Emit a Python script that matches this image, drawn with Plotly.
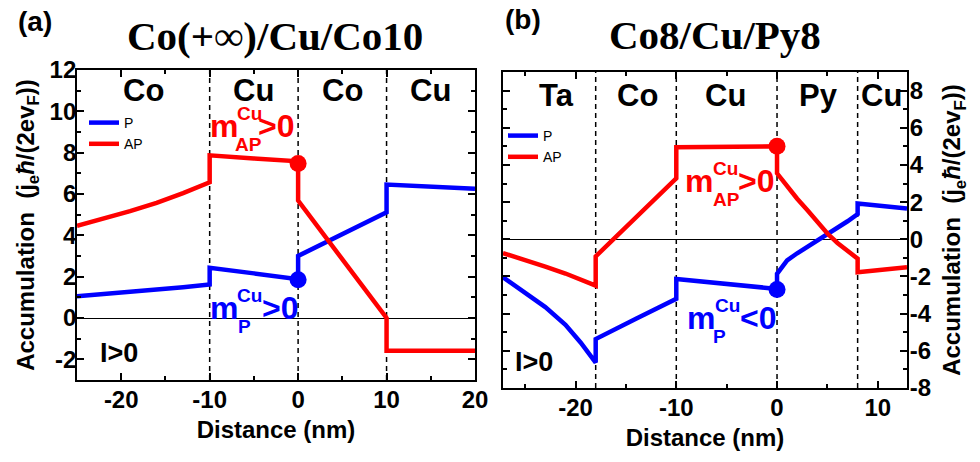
import plotly.graph_objects as go

# ---------------- data ----------------
# panel (a): Co(+inf)/Cu/Co10
x_a = [-25, -22, -19, -16, -13, -10, -10, -5, 0, 0, 5, 10, 10, 15, 20]
p_a = [1.05, 1.15, 1.26, 1.37, 1.49, 1.62, 2.43, 2.16, 1.88, 3.0, 4.05, 5.11, 6.46, 6.36, 6.25]
ap_a = [4.46, 4.80, 5.17, 5.57, 6.04, 6.57, 7.87, 7.72, 7.58, 5.68, 2.84, 0.0, -1.59, -1.59, -1.59]
dot_x_a = [0]
dot_p_a = [1.85]
dot_ap_a = [7.48]
layers_a = ["Co", "Cu", "Co", "Cu"]
layer_pos_a = [-17.5, -5, 5, 15]
bounds_a = [-10, 0, 10]
xtick_a = [-20, -10, 0, 10, 20]
xtick_text_a = ["-20", "-10", "0", "10", "20"]
ytick_a = [-2, 0, 2, 4, 6, 8, 10, 12]
ytick_text_a = ["-2", "0", "2", "4", "6", "8", "10", "12"]

# panel (b): Co8/Cu/Py8
x_b = [-27.2, -25, -23, -21, -19.5, -18, -18, -14, -10, -10, -5, 0, 0, 1, 2, 3, 4, 5, 6, 7, 8, 8, 12.9]
p_b = [-2.04, -2.85, -3.65, -4.60, -5.55, -6.63, -5.37, -4.28, -3.20, -2.13, -2.40, -2.67, -1.86,
       -1.14, -0.75, -0.41, -0.09, 0.22, 0.60, 0.97, 1.35, 1.93, 1.66]
ap_b = [-0.74, -1.10, -1.47, -1.84, -2.15, -2.49, -0.92, 1.18, 3.28, 4.95, 4.97, 5.00, 3.55,
        2.83, 2.18, 1.57, 0.92, 0.31, -0.20, -0.65, -1.04, -1.77, -1.50]
dot_x_b = [0]
dot_p_b = [-2.70]
dot_ap_b = [5.00]
layers_b = ["Ta", "Co", "Cu", "Py", "Cu"]
layer_pos_b = [-21.9, -13.9, -5.1, 4.1, 10.4]
bounds_b = [-18, -10, 0, 8]
xtick_b = [-20, -10, 0, 10]
xtick_text_b = ["-20", "-10", "0", "10"]
ytick_b = [-8, -6, -4, -2, 0, 2, 4, 6, 8]
ytick_text_b = ["-8", "-6", "-4", "-2", "0", "2", "4", "6", "8"]

BLUE = "#0000ff"
RED = "#ff0000"
SANS = "Liberation Sans, Arial, sans-serif"
SERIF = "Liberation Serif, Times New Roman, serif"
OFF = 8                      # page body margin of the html page
W, H = 980 - OFF, 462 - OFF

fig = go.Figure()

def add_panel(xs, p, ap, dx, dp, dap, xa, ya, legend):
    fig.add_trace(go.Scatter(x=xs, y=p, mode="lines", name="P", line=dict(color=BLUE, width=4.5),
                             xaxis=xa, yaxis=ya, legend=legend))
    fig.add_trace(go.Scatter(x=xs, y=ap, mode="lines", name="AP", line=dict(color=RED, width=4.5),
                             xaxis=xa, yaxis=ya, legend=legend))
    fig.add_trace(go.Scatter(x=dx, y=dp, mode="markers", marker=dict(color=BLUE, size=17),
                             xaxis=xa, yaxis=ya, showlegend=False))
    fig.add_trace(go.Scatter(x=dx, y=dap, mode="markers", marker=dict(color=RED, size=17),
                             xaxis=xa, yaxis=ya, showlegend=False))

add_panel(x_a, p_a, ap_a, dot_x_a, dot_p_a, dot_ap_a, "x", "y", "legend")
add_panel(x_b, p_b, ap_b, dot_x_b, dot_p_b, dot_ap_b, "x2", "y2", "legend2")

tickfont = dict(family=SANS, size=24, color="black", weight="bold")
titlefont = dict(family=SANS, size=24, color="black", weight="bold")
common_axis = dict(showline=True, linecolor="black", linewidth=1.8, mirror="ticks",
                   ticks="inside", ticklen=7, tickwidth=1.5, tickcolor="black",
                   showgrid=False, tickfont=tickfont, automargin=False, tickmode="array")

ytitle = "Accumulation\u00a0\u00a0(j<sub>e</sub><i>ħ</i>/(2ev<sub>F</sub>))"

def px(x):
    return (x - OFF) / W

def py(y):
    return 1 - (y - OFF) / H

def minor(d):
    return dict(ticks="inside", ticklen=4, tickmode="linear", tick0=0, dtick=d,
                tickcolor="black", showgrid=False)

fig.update_layout(
    template="none",
    width=W, height=H, margin=dict(l=0, r=0, t=0, b=0, autoexpand=False),
    paper_bgcolor="white", plot_bgcolor="white",
    xaxis=dict(domain=[px(77), px(475)], range=[-25, 20], tickvals=xtick_a, ticktext=xtick_text_a,
               minor=minor(5), title=dict(text="Distance (nm)", font=titlefont, standoff=9),
               ticklabelstandoff=-3,
               zeroline=False, anchor="y", **common_axis),
    yaxis=dict(domain=[py(380), py(70)], range=[-3, 12], tickvals=ytick_a, ticktext=ytick_text_a,
               minor=minor(1), title=dict(text=ytitle, font=titlefont, standoff=8),
               ticklabelstandoff=-6,
               zeroline=True, zerolinecolor="black", zerolinewidth=1, anchor="x", **common_axis),
    xaxis2=dict(domain=[px(503), px(907)], range=[-27.2, 12.9], tickvals=xtick_b, ticktext=xtick_text_b,
                minor=minor(5), title=dict(text="Distance (nm)", font=titlefont, standoff=9),
                ticklabelstandoff=-3,
                zeroline=False, anchor="y2", **common_axis),
    yaxis2=dict(domain=[py(388), py(72)], range=[-8, 9], tickvals=ytick_b, ticktext=ytick_text_b,
                minor=minor(1), title=dict(text=ytitle, font=titlefont, standoff=13), side="right",
                ticklabelstandoff=-4,
                zeroline=True, zerolinecolor="black", zerolinewidth=1, anchor="x2", **common_axis),
    legend=dict(x=px(84), y=py(107), xanchor="left", yanchor="top", bgcolor="rgba(0,0,0,0)",
                font=dict(family=SANS, size=14, color="black"), tracegroupgap=0, itemwidth=30),
    legend2=dict(x=px(503), y=py(120), xanchor="left", yanchor="top", bgcolor="rgba(0,0,0,0)",
                 font=dict(family=SANS, size=14, color="black"), tracegroupgap=0, itemwidth=30),
    showlegend=True,
)

shapes = []
for b in bounds_a:
    shapes.append(dict(type="line", xref="x", yref="y domain", x0=b, x1=b, y0=0, y1=1,
                       line=dict(color="black", width=1.5, dash="5px,4px"), layer="below"))
for b in bounds_b:
    shapes.append(dict(type="line", xref="x2", yref="y2 domain", x0=b, x1=b, y0=0, y1=1,
                       line=dict(color="black", width=1.5, dash="5px,4px"), layer="below"))
fig.update_layout(shapes=shapes)

anns = []
for name, xv in zip(layers_a, layer_pos_a):
    anns.append(dict(x=xv, y=py(91), xref="x", yref="paper", text=name, showarrow=False,
                     xanchor="center", yanchor="middle",
                     font=dict(family=SANS, size=31, color="black", weight="bold")))
for name, xv in zip(layers_b, layer_pos_b):
    anns.append(dict(x=xv, y=py(96), xref="x2", yref="paper", text=name, showarrow=False,
                     xanchor="center", yanchor="middle",
                     font=dict(family=SANS, size=31, color="black", weight="bold")))

def txt(x, baseline, text, size, color, weight="bold", family=SANS):
    anns.append(dict(x=px(x), y=py(baseline - 0.36 * size), xref="paper", yref="paper", text=text,
                     showarrow=False, xanchor="left", yanchor="middle",
                     font=dict(family=family, size=size, color=color, weight=weight)))

def mlabel(x, baseline, sup, sub, rel, color, sup_dx, sub_dx, rel_dx):
    txt(x - 1, baseline, "m", 32, color)
    txt(x + sup_dx, baseline - 18, sup, 19, color)
    txt(x + sub_dx, baseline + 13, sub, 19, color)
    txt(x + rel_dx, baseline, rel, 32, color)

mlabel(209, 138, "Cu", "AP", ">0", RED, 26, 24, 47)
mlabel(209, 320, "Cu", "P", ">0", BLUE, 26, 27, 51)
mlabel(684, 193, "Cu", "AP", ">0", RED, 27, 27, 52)
mlabel(686, 330, "Cu", "P", "<0", BLUE, 27, 25, 52)

txt(98, 363, "I>0", 27, "black")
txt(513, 372, "I>0", 27, "black")

# panel letters and titles
anns.append(dict(x=px(35), y=py(21), xref="paper", yref="paper", text="(a)", showarrow=False,
                 xanchor="center", yanchor="middle", borderpad=0,
                 font=dict(family=SANS, size=28, color="black", weight="bold")))
anns.append(dict(x=px(523), y=py(20), xref="paper", yref="paper", text="(b)", showarrow=False,
                 xanchor="center", yanchor="middle", borderpad=0,
                 font=dict(family=SANS, size=28, color="black", weight="bold")))
anns.append(dict(x=px(275), y=py(36), xref="paper", yref="paper", text="Co(+∞)/Cu/Co10",
                 showarrow=False, xanchor="center", yanchor="middle",
                 font=dict(family=SERIF, size=41, color="black", weight="bold")))
anns.append(dict(x=px(715), y=py(35), xref="paper", yref="paper", text="Co8/Cu/Py8",
                 showarrow=False, xanchor="center", yanchor="middle",
                 font=dict(family=SERIF, size=41, color="black", weight="bold")))

fig.update_layout(annotations=anns)
fig.write_html("out.html")
